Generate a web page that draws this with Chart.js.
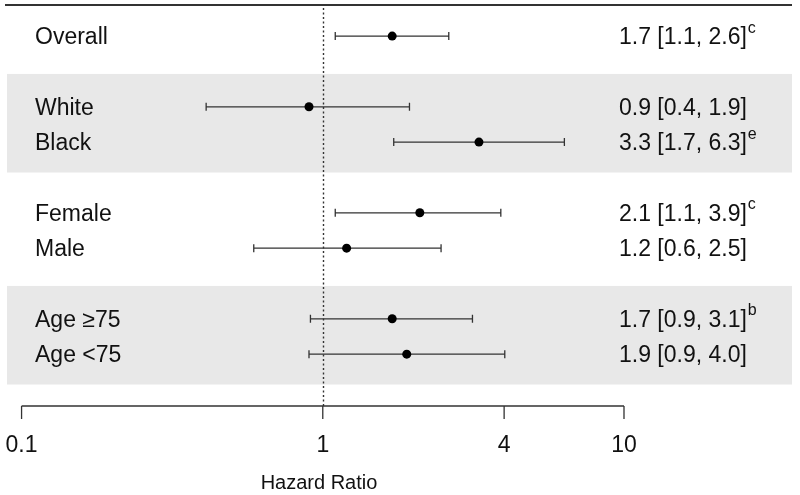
<!DOCTYPE html>
<html>
<head>
<meta charset="utf-8">
<script src="https://cdn.jsdelivr.net/npm/chart.js@4"></script>
<style>
  html, body { margin: 0; padding: 0; background: #fff; }
  #wrap { width: 800px; height: 495px; }
</style>
</head>
<body>
<div id="wrap"><canvas id="forest"></canvas></div>
<script>
// subgroup rows and their group number (groups are separated by a blank row)
const subgroups = ['Overall', 'White', 'Black', 'Female', 'Male', 'Age \u226575', 'Age <75'];
const groupOf = [0, 1, 1, 2, 2, 3, 3];
const shadedGroups = [1, 3];

// hazard ratios with 95% CI
const hazardRatio = [1.7, 0.9, 3.3, 2.1, 1.2, 1.7, 1.9];
const ciLower = [1.1, 0.41, 1.72, 1.1, 0.59, 0.91, 0.9];
const ciUpper = [2.62, 1.94, 6.34, 3.9, 2.47, 3.14, 4.02];
const footnote = ['c', '', 'e', 'c', '', 'b', ''];

const tickValues = [0.1, 1, 4, 10];
const tickLabels = ['0.1', '1', '4', '10'];

// y rows: insert a blank row between groups
const yLabels = [];
const rowIndex = [];
subgroups.forEach((name, i) => {
    if (i > 0 && groupOf[i] !== groupOf[i - 1]) yLabels.push(' '.repeat(yLabels.length));
    rowIndex.push(yLabels.length);
    yLabels.push(name);
});

const FONT = '"Liberation Sans", Arial, Helvetica, sans-serif';
const INK = '#111';
const LINE = '#333';

const forestPlugin = {
    id: 'forest',
    beforeDatasetsDraw(chart) {
        const { ctx } = chart;
        const x = chart.scales.x;
        const y = chart.scales.y;
        const rowH = y.getPixelForValue(1) - y.getPixelForValue(0);

        ctx.save();
        // shaded bands behind groups
        ctx.fillStyle = '#e8e8e8';
        shadedGroups.forEach(g => {
            const rows = rowIndex.filter((r, i) => groupOf[i] === g);
            const top = y.getPixelForValue(rows[0]) - 0.93 * rowH;
            const bottom = y.getPixelForValue(rows[rows.length - 1]) + 0.86 * rowH;
            ctx.fillRect(7, top, 785, bottom - top);
        });

        // top rule
        ctx.strokeStyle = LINE;
        ctx.lineWidth = 2;
        ctx.beginPath();
        ctx.moveTo(5, 5);
        ctx.lineTo(792, 5);
        ctx.stroke();

        // reference line at HR = 1
        const x1 = Math.round(x.getPixelForValue(1)) + 0.5;
        ctx.setLineDash([2, 2.5]);
        ctx.lineWidth = 1.4;
        ctx.strokeStyle = '#333';
        ctx.beginPath();
        ctx.moveTo(x1, 8);
        ctx.lineTo(x1, 406);
        ctx.stroke();
        ctx.setLineDash([]);

        // confidence intervals
        ctx.strokeStyle = LINE;
        ctx.lineWidth = 1.3;
        subgroups.forEach((name, i) => {
            const py = y.getPixelForValue(rowIndex[i]);
            const xl = x.getPixelForValue(ciLower[i]);
            const xr = x.getPixelForValue(ciUpper[i]);
            ctx.beginPath();
            ctx.moveTo(xl, py);
            ctx.lineTo(xr, py);
            ctx.moveTo(xl, py - 4);
            ctx.lineTo(xl, py + 4);
            ctx.moveTo(xr, py - 4);
            ctx.lineTo(xr, py + 4);
            ctx.stroke();
        });
        ctx.restore();
    },
    afterDatasetsDraw(chart) {
        const { ctx } = chart;
        const x = chart.scales.x;
        const y = chart.scales.y;

        ctx.save();
        ctx.fillStyle = INK;
        ctx.textBaseline = 'middle';
        ctx.textAlign = 'left';
        subgroups.forEach((name, i) => {
            const py = y.getPixelForValue(rowIndex[i]) + 2;
            ctx.font = '23px ' + FONT;
            ctx.fillText(name, 35, py);
            const txt = hazardRatio[i].toFixed(1) + ' [' + ciLower[i].toFixed(1) + ', ' + ciUpper[i].toFixed(1) + ']';
            ctx.fillText(txt, 619, py);
            if (footnote[i]) {
                const w = ctx.measureText(txt).width;
                ctx.font = '16px ' + FONT;
                ctx.fillText(footnote[i], 619 + w + 1, py - 10);
            }
        });

        // x axis, only over the tick range
        const ay = 406;
        const xa = x.getPixelForValue(tickValues[0]);
        const xb = x.getPixelForValue(tickValues[tickValues.length - 1]);
        ctx.strokeStyle = LINE;
        ctx.lineWidth = 1.3;
        ctx.beginPath();
        ctx.moveTo(xa, ay);
        ctx.lineTo(xb, ay);
        tickValues.forEach(v => {
            const px = x.getPixelForValue(v);
            ctx.moveTo(px, ay);
            ctx.lineTo(px, ay + 13);
        });
        ctx.stroke();

        ctx.textAlign = 'center';
        ctx.font = '23px ' + FONT;
        tickValues.forEach((v, i) => {
            ctx.fillText(tickLabels[i], x.getPixelForValue(v), 446);
        });
        ctx.font = '20px ' + FONT;
        ctx.fillText('Hazard Ratio', 319, 483);
        ctx.restore();
    }
};

new Chart(document.getElementById('forest'), {
    type: 'scatter',
    data: {
        labels: yLabels,
        datasets: [{
            data: hazardRatio.map((v, i) => ({ x: v, y: subgroups[i] })),
            backgroundColor: '#000',
            borderColor: '#000',
            borderWidth: 0,
            pointRadius: 4.5,
            pointHoverRadius: 4.5
        }]
    },
    options: {
        responsive: true,
        maintainAspectRatio: false,
        animation: false,
        layout: { autoPadding: false, padding: { top: 18.45, bottom: 123.2, left: 0, right: 0 } },
        scales: {
            x: { type: 'logarithmic', min: 0.0848, max: 38.4, bounds: 'data', display: false },
            y: { type: 'category', labels: yLabels, offset: true, display: false }
        },
        plugins: {
            legend: { display: false },
            tooltip: { enabled: false }
        }
    },
    plugins: [forestPlugin]
});
</script>
</body>
</html>
